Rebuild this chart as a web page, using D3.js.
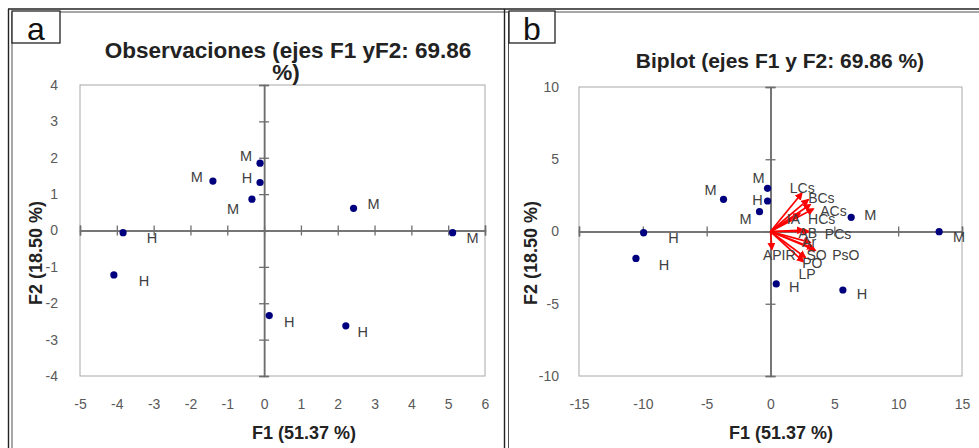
<!DOCTYPE html>
<html>
<head>
<meta charset="utf-8">
<script src="https://cdn.jsdelivr.net/npm/d3@7"></script>
<style>
  html, body { margin: 0; padding: 0; background: #fff; }
  svg { display: block; font-family: "Liberation Sans", Arial, sans-serif; }
</style>
</head>
<body>
<svg id="chart" width="979" height="448"></svg>
<script>
// ---------------- DATA ----------------
const obsLabels = ["H", "H", "M", "M", "H", "M", "M", "M", "H", "H"];
// Panel a: observations (F1, F2)
const obsF1 = [-3.83, -4.08, -1.39, -0.11, -0.11, -0.33, 2.43, 5.12, 0.14, 2.22];
const obsF2 = [-0.06, -1.22, 1.36, 1.85, 1.32, 0.86, 0.61, -0.06, -2.34, -2.62];
// Panel b: biplot observations (F1, F2)
const biF1 = [-9.94, -10.54, -3.68, -0.23, -0.23, -0.86, 6.32, 13.21, 0.45, 5.67];
const biF2 = [-0.08, -1.86, 2.23, 2.99, 2.11, 1.37, 0.98, -0.01, -3.63, -4.05];
// Panel b: variables (arrow tips)
const varNames = ["LCs", "BCs", "ACs", "HCs", "IA", "AB", "PCs", "Ar", "APIR", "SO", "PsO", "PO", "LP"];
const varF1 = [2.45, 2.95, 3.35, 3.1, 2.3, 2.58, 3.0, 3.1, 0.11, 3.37, 3.5, 2.72, 2.58];
const varF2 = [2.65, 2.2, 1.55, 1.85, 1.25, 0.1, 0.0, -0.75, -1.23, -1.16, -1.3, -1.79, -2.09];
// Ticks
const ticksAx = [-5, -4, -3, -2, -1, 0, 1, 2, 3, 4, 5, 6];
const ticksAy = [-4, -3, -2, -1, 0, 1, 2, 3, 4];
const ticksBx = [-15, -10, -5, 0, 5, 10, 15];
const ticksBy = [-10, -5, 0, 5, 10];
// Texts
const titleA = ["Observaciones (ejes F1 yF2: 69.86", "%)"];
const titleB = "Biplot (ejes F1 y F2: 69.86 %)";
const xTitle = "F1 (51.37 %)";
const yTitle = "F2 (18.50 %)";

// ---------------- LAYOUT / STYLE ----------------
const svg = d3.select("#chart");
const FONT = "Liberation Sans, Arial, sans-serif";
const pointColor = "#00007f";
const labelColor = "#404040";
const tickColor = "#595959";
const axisColor = "#6e6e6e";
const borderColor = "#a8a8a8";
const fmt = d => String(d);

// label offsets (pixels, label centre relative to point)
const offA = [[29,5],[30,6],[-16,-4],[-14,-7],[-13,-5],[-19,10],[20,-5],[20,5],[20,6],[17,6]];
const offB = [[30,5],[28,6],[-13,-9],[-9,-11],[-10,-1],[-14,7],[19,-3],[20,5],[18,3],[19,4]];
// variable label offsets (left x, centre y relative to tip)
const offV = [[-12,-5],[0,-2],[7,2],[-2,14],[-13,6],[-5,3],[16,2],[-8,0],[-9,6],[-7,7],[17,5],[-3,6],[-5,12]];

// Outer frame
const frame = svg.append("g").attr("stroke", "#222").attr("fill", "none");
frame.append("line").attr("x1", 8).attr("x2", 979).attr("y1", 9).attr("y2", 9).attr("stroke-width", 1.6);
frame.append("line").attr("x1", 12).attr("x2", 979).attr("y1", 12).attr("y2", 12).attr("stroke-width", 0.8);
frame.append("line").attr("x1", 8.5).attr("x2", 8.5).attr("y1", 9).attr("y2", 448).attr("stroke-width", 1.4);
frame.append("line").attr("x1", 12).attr("x2", 12).attr("y1", 12).attr("y2", 448).attr("stroke-width", 0.8);
frame.append("line").attr("x1", 504.5).attr("x2", 504.5).attr("y1", 9).attr("y2", 448).attr("stroke-width", 1.4);
frame.append("line").attr("x1", 508.5).attr("x2", 508.5).attr("y1", 12).attr("y2", 448).attr("stroke-width", 0.8);

// Panel letter boxes
function letterBox(x0, x1, letter) {
  svg.append("rect").attr("x", x0).attr("y", 11).attr("width", x1 - x0).attr("height", 32)
    .attr("fill", "#fff").attr("stroke", "#222").attr("stroke-width", 1.3);
  svg.append("text").attr("x", (x0 + x1) / 2).attr("y", 40).attr("text-anchor", "middle")
    .attr("font-family", FONT).attr("font-size", 32).attr("fill", "#111").text(letter);
}
letterBox(12, 60, "a");
letterBox(509, 555, "b");

function panel(cfg) {
  const x = d3.scaleLinear().domain(cfg.xd).range(cfg.xr);
  const y = d3.scaleLinear().domain(cfg.yd).range(cfg.yr);
  const g = svg.append("g");

  // plot border
  g.append("rect").attr("x", cfg.xr[0]).attr("y", cfg.yr[1])
    .attr("width", cfg.xr[1] - cfg.xr[0]).attr("height", cfg.yr[0] - cfg.yr[1])
    .attr("fill", "none").attr("stroke", borderColor).attr("stroke-width", 1);

  // tick labels
  const bx = g.append("g").attr("transform", `translate(0,${cfg.yr[0]})`)
    .call(d3.axisBottom(x).tickValues(cfg.xt).tickSize(0).tickPadding(23).tickFormat(fmt));
  const ly = g.append("g").attr("transform", `translate(${cfg.xr[0]},0)`)
    .call(d3.axisLeft(y).tickValues(cfg.yt).tickSize(0).tickPadding(cfg.yPad).tickFormat(fmt));
  [bx, ly].forEach(a => {
    a.select(".domain").remove();
    a.selectAll("text").attr("font-family", FONT).attr("font-size", 14).attr("fill", tickColor);
  });
  ly.selectAll("text").attr("text-anchor", "end");

  // zero axes with crossing ticks
  [d3.axisBottom(x), d3.axisTop(x)].forEach(ax => {
    const a = g.append("g").attr("transform", `translate(0,${y(0)})`)
      .call(ax.tickValues(cfg.xt).tickSize(5).tickFormat(""));
    a.select(".domain").attr("stroke", axisColor).attr("stroke-width", 1.5);
    a.selectAll(".tick line").attr("stroke", axisColor).attr("stroke-width", 1.3);
  });
  [d3.axisLeft(y), d3.axisRight(y)].forEach(ax => {
    const a = g.append("g").attr("transform", `translate(${x(0)},0)`)
      .call(ax.tickValues(cfg.yt).tickSize(5).tickFormat(""));
    a.select(".domain").attr("stroke", axisColor).attr("stroke-width", 1.5);
    a.selectAll(".tick line").attr("stroke", axisColor).attr("stroke-width", 1.3);
  });

  // axis titles
  g.append("text").attr("x", cfg.xTitleX).attr("y", 439).attr("text-anchor", "middle")
    .attr("font-family", FONT).attr("font-size", 18).attr("font-weight", "bold").attr("fill", "#222")
    .text(xTitle);
  g.append("text").attr("transform", `translate(${cfg.yTitleX},253) rotate(-90)`)
    .attr("text-anchor", "middle").attr("font-family", FONT).attr("font-size", 18)
    .attr("font-weight", "bold").attr("fill", "#222").text(yTitle);

  return { g, x, y };
}

// ---------------- PANEL A ----------------
const A = panel({ xd: [-5, 6], xr: [80, 485], yd: [-4, 4], yr: [376, 85],
  xt: ticksAx, yt: ticksAy, yPad: 22, xTitleX: 304, yTitleX: 42 });

const tA = A.g.append("text").attr("text-anchor", "middle").attr("font-family", FONT)
  .attr("font-size", 22.5).attr("font-weight", "bold").attr("fill", "#222");
tA.append("tspan").attr("x", 288).attr("y", 58).text(titleA[0]);
tA.append("tspan").attr("x", 286).attr("y", 80).text(titleA[1]);

A.g.selectAll("circle.obs").data(obsF1).join("circle").attr("class", "obs")
  .attr("cx", (d) => A.x(d)).attr("cy", (d, i) => A.y(obsF2[i])).attr("r", 3.6).attr("fill", pointColor);
A.g.selectAll("text.lab").data(obsLabels).join("text").attr("class", "lab")
  .attr("x", (d, i) => A.x(obsF1[i]) + offA[i][0]).attr("y", (d, i) => A.y(obsF2[i]) + offA[i][1])
  .attr("dy", "0.36em").attr("text-anchor", "middle").attr("font-family", FONT).attr("font-size", 14.5)
  .attr("fill", labelColor).text(d => d);

// ---------------- PANEL B ----------------
const B = panel({ xd: [-15, 15], xr: [579, 962], yd: [-10, 10], yr: [376, 87],
  xt: ticksBx, yt: ticksBy, yPad: 20, xTitleX: 781, yTitleX: 537 });

B.g.append("text").attr("x", 780).attr("y", 68).attr("text-anchor", "middle").attr("font-family", FONT)
  .attr("font-size", 21).attr("font-weight", "bold").attr("fill", "#222").text(titleB);

// arrow marker
svg.append("defs").append("marker").attr("id", "arr").attr("viewBox", "0 0 10 10")
  .attr("refX", 8).attr("refY", 5).attr("markerWidth", 8).attr("markerHeight", 8)
  .attr("markerUnits", "userSpaceOnUse").attr("orient", "auto")
  .append("path").attr("d", "M0,0 L10,5 L0,10 z").attr("fill", "#ff0000");

B.g.selectAll("line.var").data(varF1).join("line").attr("class", "var")
  .attr("x1", B.x(0)).attr("y1", B.y(0))
  .attr("x2", d => B.x(d)).attr("y2", (d, i) => B.y(varF2[i]))
  .attr("stroke", "#ff0000").attr("stroke-width", 1.7).attr("marker-end", "url(#arr)");

B.g.selectAll("circle.obs").data(biF1).join("circle").attr("class", "obs")
  .attr("cx", d => B.x(d)).attr("cy", (d, i) => B.y(biF2[i])).attr("r", 3.6).attr("fill", pointColor);
B.g.selectAll("text.lab").data(obsLabels).join("text").attr("class", "lab")
  .attr("x", (d, i) => B.x(biF1[i]) + offB[i][0]).attr("y", (d, i) => B.y(biF2[i]) + offB[i][1])
  .attr("dy", "0.36em").attr("text-anchor", "middle").attr("font-family", FONT).attr("font-size", 14.5)
  .attr("fill", labelColor).text(d => d);

B.g.selectAll("text.vlab").data(varNames).join("text").attr("class", "vlab")
  .attr("x", (d, i) => B.x(varF1[i]) + offV[i][0]).attr("y", (d, i) => B.y(varF2[i]) + offV[i][1])
  .attr("dy", "0.36em").attr("font-family", FONT).attr("font-size", 14)
  .attr("fill", labelColor).text(d => d);
</script>
</body>
</html>
